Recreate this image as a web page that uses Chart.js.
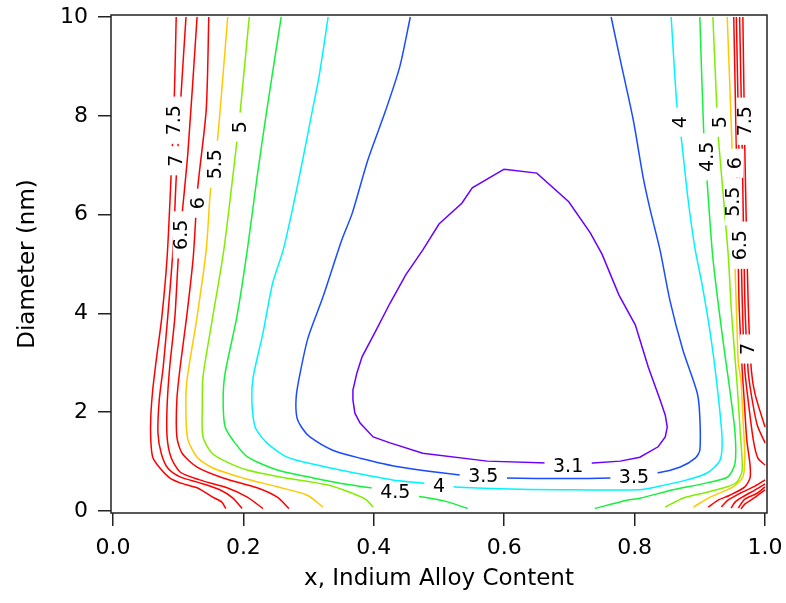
<!DOCTYPE html>
<html>
<head>
<meta charset="utf-8">
<script src="https://cdn.jsdelivr.net/npm/chart.js@4.4.1/dist/chart.umd.min.js"></script>
<style>
  html, body { margin: 0; padding: 0; background: #fff; }
</style>
</head>
<body>
<canvas id="chart" width="786" height="603"></canvas>
<script>
  // axis ticks
  const xTicks = [0, 0.2, 0.4, 0.6, 0.8, 1.0];
  const yTicks = [0, 2, 4, 6, 8, 10];

  // contour lines, [x (indium content), diameter (nm)] pairs
  const level31 = [
    [0.600, 6.92], [0.650, 6.84], [0.699, 6.26], [0.732, 5.63], [0.750, 5.20], [0.776, 4.37],
    [0.801, 3.77], [0.821, 2.91], [0.839, 2.25], [0.847, 1.94], [0.850, 1.70], [0.847, 1.50],
    [0.836, 1.30], [0.808, 1.09], [0.778, 1.01], [0.736, 0.97], [0.666, 0.97], [0.574, 1.01],
    [0.475, 1.17], [0.425, 1.38], [0.399, 1.50], [0.379, 1.78], [0.371, 1.98], [0.368, 2.25],
    [0.368, 2.45], [0.374, 2.79], [0.382, 3.12], [0.402, 3.62], [0.425, 4.21], [0.449, 4.78],
    [0.475, 5.28], [0.500, 5.81], [0.535, 6.23], [0.551, 6.54], [0.600, 6.92]
  ];
  const level35 = [
    [0.456, 10.0], [0.440, 9.00], [0.418, 8.10], [0.391, 7.11], [0.367, 6.03], [0.351, 5.49],
    [0.322, 4.33], [0.299, 3.50], [0.287, 2.79], [0.281, 2.31], [0.282, 1.90], [0.290, 1.68],
    [0.302, 1.50], [0.337, 1.23], [0.379, 1.07], [0.440, 0.89], [0.532, 0.73], [0.601, 0.67],
    [0.762, 0.67], [0.834, 0.77], [0.870, 0.89], [0.893, 1.07], [0.900, 1.23], [0.900, 1.90],
    [0.896, 2.39], [0.874, 3.26], [0.854, 4.27], [0.839, 5.28], [0.824, 6.09], [0.813, 6.76],
    [0.798, 7.91], [0.778, 9.13], [0.764, 10.0]
  ];
  const level40 = [
    [0.330, 10.0], [0.316, 8.79], [0.306, 8.12], [0.291, 7.11], [0.276, 6.15], [0.261, 5.28],
    [0.245, 4.62], [0.230, 3.60], [0.215, 2.71], [0.213, 2.25], [0.218, 1.70], [0.236, 1.38],
    [0.267, 1.09], [0.313, 0.93], [0.356, 0.81], [0.429, 0.63], [0.471, 0.57], [0.520, 0.49],
    [0.594, 0.45], [0.686, 0.43], [0.808, 0.43], [0.834, 0.49], [0.880, 0.63], [0.911, 0.77],
    [0.931, 1.03], [0.934, 1.50], [0.926, 2.59], [0.916, 3.60], [0.903, 4.62], [0.893, 5.28],
    [0.882, 6.30], [0.871, 7.61], [0.865, 8.18], [0.856, 10.0]
  ];
  const level45Left = [
    [0.258, 10.0], [0.236, 8.12], [0.221, 6.76], [0.206, 5.28], [0.190, 3.93], [0.172, 2.79],
    [0.169, 2.25], [0.172, 1.70], [0.187, 1.38], [0.207, 1.09], [0.252, 0.83], [0.307, 0.67],
    [0.363, 0.53], [0.405, 0.45], [0.433, 0.38], [0.468, 0.30], [0.509, 0.20], [0.544, 0.05]
  ];
  const level45Right = [
    [0.739, 0.05], [0.788, 0.22], [0.808, 0.26], [0.859, 0.43], [0.911, 0.57], [0.943, 0.69],
    [0.954, 0.97], [0.954, 1.58], [0.946, 2.45], [0.934, 3.60], [0.920, 5.12], [0.911, 6.70],
    [0.906, 7.65], [0.900, 10.0]
  ];
  const level50Left = [
    [0.209, 10.0], [0.195, 8.06], [0.190, 7.47], [0.170, 5.28], [0.153, 3.93], [0.138, 2.71],
    [0.137, 2.11], [0.138, 1.50], [0.152, 1.17], [0.175, 0.99], [0.206, 0.83], [0.256, 0.69],
    [0.328, 0.53], [0.363, 0.38], [0.387, 0.24], [0.399, 0.08]
  ];
  const level50Right = [
    [0.847, 0.08], [0.874, 0.26], [0.911, 0.38], [0.942, 0.49], [0.957, 0.59], [0.965, 0.83],
    [0.962, 1.58], [0.957, 2.59], [0.949, 3.93], [0.943, 5.28], [0.928, 7.61], [0.926, 8.18],
    [0.920, 10.0]
  ];
  const level55Left = [
    [0.176, 10.0], [0.160, 7.47], [0.150, 6.56], [0.143, 5.28], [0.129, 3.93], [0.113, 2.59],
    [0.112, 1.90], [0.115, 1.44], [0.129, 1.09], [0.153, 0.87], [0.199, 0.67], [0.252, 0.49],
    [0.298, 0.32], [0.322, 0.08]
  ];
  const level55Right = [
    [0.890, 0.08], [0.916, 0.28], [0.951, 0.49], [0.966, 0.69], [0.969, 1.09], [0.966, 1.90],
    [0.963, 2.65], [0.959, 3.00], [0.957, 3.72], [0.954, 4.92], [0.951, 6.30], [0.949, 7.51],
    [0.942, 10.0]
  ];
  const level60Left = [
    [0.147, 10.0], [0.143, 8.12], [0.130, 6.54], [0.123, 5.12], [0.113, 3.93], [0.103, 2.91],
    [0.098, 2.25], [0.098, 1.50], [0.106, 1.17], [0.129, 0.89], [0.169, 0.67], [0.221, 0.47],
    [0.252, 0.28], [0.270, 0.05]
  ];
  const level60Right = [
    [0.952, 10.0], [0.956, 7.31], [0.960, 4.27], [0.965, 2.85], [0.968, 2.25], [0.972, 1.44],
    [0.977, 0.93], [0.977, 0.67], [0.969, 0.49], [0.946, 0.32], [0.928, 0.22], [0.913, 0.08]
  ];
  const level65Left = [
    [0.129, 10.0], [0.115, 7.27], [0.101, 5.28], [0.095, 3.93], [0.087, 2.91], [0.083, 2.11],
    [0.083, 1.50], [0.089, 1.09], [0.103, 0.79], [0.133, 0.63], [0.175, 0.47], [0.206, 0.28],
    [0.230, 0.05]
  ];
  const level65Right = [
    [0.956, 10.0], [0.960, 7.31], [0.965, 4.27], [0.969, 2.85], [0.974, 2.25], [0.982, 1.44],
    [0.989, 1.07], [1.0, 0.93]
  ];
  const level65Corner = [[1.0, 0.63], [0.985, 0.51], [0.962, 0.36], [0.943, 0.22], [0.933, 0.08]];
  const level70Left = [
    [0.112, 10.0], [0.104, 8.34], [0.097, 6.74], [0.092, 5.28], [0.084, 3.93], [0.077, 2.91],
    [0.071, 2.25], [0.069, 1.58], [0.074, 1.17], [0.084, 0.87], [0.103, 0.69], [0.133, 0.57],
    [0.164, 0.43], [0.184, 0.26], [0.198, 0.05]
  ];
  const level70Right = [
    [0.961, 10.0], [0.965, 7.31], [0.969, 4.27], [0.974, 2.85], [0.979, 2.35], [0.988, 1.74],
    [1.0, 1.38]
  ];
  const level70Corner = [[1.0, 0.55], [0.985, 0.43], [0.965, 0.28], [0.954, 0.18], [0.948, 0.06]];
  const level75Left = [
    [0.097, 10.0], [0.094, 8.34], [0.089, 6.74], [0.083, 5.12], [0.075, 3.93], [0.067, 3.12],
    [0.061, 2.45], [0.058, 1.90], [0.058, 1.44], [0.061, 1.09], [0.072, 0.87], [0.087, 0.67],
    [0.103, 0.57], [0.129, 0.47], [0.153, 0.28], [0.167, 0.18], [0.173, 0.05]
  ];
  const level75Right = [
    [0.966, 10.0], [0.969, 7.31], [0.974, 4.27], [0.979, 2.85], [0.985, 2.35], [1.0, 1.70]
  ];
  const level75Corner = [[1.0, 0.49], [0.988, 0.36], [0.969, 0.24], [0.959, 0.06]];
  const level80Corner = [[1.0, 0.43], [0.985, 0.28], [0.969, 0.14], [0.963, 0.04]];

  // contour labels: text, x, diameter, written upward
  const contourLabels = [
    ['7.5', 0.094, 7.91, true], ['7', 0.097, 7.09, true], ['6.5', 0.104, 5.59, true],
    ['6', 0.130, 6.23, true], ['5.5', 0.156, 7.02, true], ['5', 0.195, 7.77, true],
    ['4', 0.870, 7.87, true], ['5', 0.931, 7.87, true], ['7.5', 0.969, 7.89, true],
    ['4.5', 0.911, 7.17, true], ['6', 0.954, 7.04, true], ['5.5', 0.951, 6.26, true],
    ['6.5', 0.962, 5.38, true], ['7', 0.974, 3.28, true],
    ['4.5', 0.433, 0.38, false], ['4', 0.500, 0.51, false], ['3.5', 0.568, 0.71, false],
    ['3.1', 0.698, 0.91, false], ['3.5', 0.799, 0.69, false]
  ];

  const colors = {
    c31: '#6a00ff', c35: '#1a4cff', c40: '#00f4ff', c45: '#14f03c',
    c50: '#80ee00', c55: '#ffc800', red: '#ff0000'
  };

  const lines = [
    { data: level31, color: colors.c31, tension: 0 },
    { data: level35, color: colors.c35 },
    { data: level40, color: colors.c40 },
    { data: level45Left, color: colors.c45 },
    { data: level45Right, color: colors.c45 },
    { data: level50Left, color: colors.c50 },
    { data: level50Right, color: colors.c50 },
    { data: level55Left, color: colors.c55 },
    { data: level55Right, color: colors.c55 },
    { data: level60Left, color: colors.red },
    { data: level60Right, color: colors.red },
    { data: level65Left, color: colors.red },
    { data: level65Right, color: colors.red },
    { data: level65Corner, color: colors.red },
    { data: level70Left, color: colors.red },
    { data: level70Right, color: colors.red },
    { data: level70Corner, color: colors.red },
    { data: level75Left, color: colors.red },
    { data: level75Right, color: colors.red },
    { data: level75Corner, color: colors.red },
    { data: level80Corner, color: colors.red }
  ];

  const datasets = lines.map((line) => ({
    data: line.data.map(([x, y]) => ({ x, y })),
    borderColor: line.color,
    borderWidth: 1.5,
    pointRadius: 0,
    showLine: true,
    fill: false,
    tension: line.tension === undefined ? 0.25 : line.tension
  }));

  const labelPlugin = {
    id: 'contourLabels',
    afterDatasetsDraw(chart) {
      const { ctx, scales: { x, y } } = chart;
      ctx.save();
      ctx.font = '19px "DejaVu Sans", sans-serif';
      ctx.textAlign = 'center';
      ctx.textBaseline = 'middle';
      contourLabels.forEach(([text, lx, ly, upward]) => {
        const w = ctx.measureText(text).width + 17;
        const h = 16;
        ctx.save();
        ctx.translate(x.getPixelForValue(lx), y.getPixelForValue(ly));
        if (upward) ctx.rotate(-Math.PI / 2);
        ctx.fillStyle = '#fff';
        ctx.fillRect(-w / 2, -h / 2, w, h);
        ctx.fillStyle = '#000';
        ctx.fillText(text, 0, 1);
        ctx.restore();
      });
      ctx.restore();
    }
  };

  const framePlugin = {
    id: 'frame',
    afterDraw(chart) {
      const { ctx, chartArea: a } = chart;
      ctx.save();
      ctx.strokeStyle = '#222';
      ctx.lineWidth = 1.5;
      ctx.strokeRect(a.left, a.top, a.right - a.left, a.bottom - a.top);
      ctx.restore();
    }
  };

  Chart.defaults.font.family = '"DejaVu Sans", sans-serif';
  Chart.defaults.color = '#000';

  new Chart(document.getElementById('chart'), {
    type: 'scatter',
    data: { datasets },
    options: {
      responsive: false,
      animation: false,
      layout: { padding: { top: 15, right: 19, bottom: 0, left: 0 } },
      plugins: { legend: { display: false }, tooltip: { enabled: false } },
      scales: {
        x: {
          type: 'linear',
          min: -0.003,
          max: 1.003,
          afterBuildTicks: (scale) => { scale.ticks = xTicks.map((value) => ({ value })); },
          afterFit: (scale) => {
            scale.height = 90;
            scale.paddingLeft = 0;
            scale.paddingRight = 0;
          },
          ticks: {
            callback: (value) => value.toFixed(1),
            font: { size: 22 },
            padding: 9,
            maxRotation: 0,
            autoSkip: false
          },
          grid: { drawOnChartArea: false, tickLength: 13, color: '#222', lineWidth: 1.5 },
          border: { display: false },
          title: {
            display: true,
            text: 'x, Indium Alloy Content',
            font: { size: 23 },
            padding: { top: 0, bottom: 10 }
          }
        },
        y: {
          type: 'linear',
          min: -0.04,
          max: 10.04,
          afterBuildTicks: (scale) => { scale.ticks = yTicks.map((value) => ({ value })); },
          afterFit: (scale) => {
            scale.width = 111;
            scale.paddingTop = 0;
            scale.paddingBottom = 0;
          },
          ticks: { font: { size: 22 }, padding: 10, autoSkip: false },
          grid: { drawOnChartArea: false, tickLength: 13, color: '#222', lineWidth: 1.5 },
          border: { display: false },
          title: {
            display: true,
            text: 'Diameter (nm)',
            font: { size: 23 },
            padding: { top: 14, bottom: 0 }
          }
        }
      }
    },
    plugins: [labelPlugin, framePlugin]
  });
</script>
</body>
</html>
